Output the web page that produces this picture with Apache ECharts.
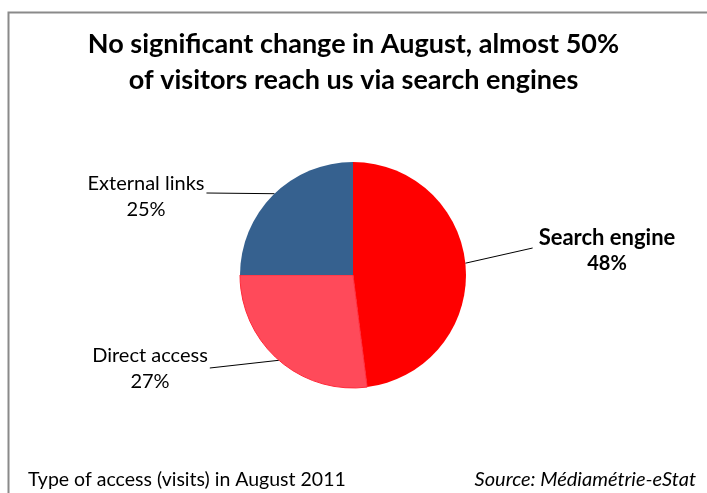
<!DOCTYPE html>
<html><head><meta charset="utf-8">
<script src="https://cdn.jsdelivr.net/npm/echarts@6/dist/echarts.min.js"></script>
<style>html,body{margin:0;padding:0;background:#fff}#c{width:707px;height:493px}</style>
</head><body><div id="c"></div><script>
const categories = ['Search engine', 'Direct access', 'External links'];
const values = [48, 27, 25];
const colors = ['#FF0000', '#FF4A5A', '#36618F'];
const titleText = 'No significant change in August, almost 50%\nof visitors reach us via search engines';
const footLeft = 'Type of access (visits) in August 2011';
const footRight = 'Source: Médiamétrie-eStat';

const FONT = 'Lato';
const cx = 353, cy = 275, R = 113;
// label layout helpers (centre of each label block, anchor angle on the pie edge)
const labelPos = [
  {x: 607, y: 251, angle: 6, endDy: -3},
  {x: 150, y: 369, angle: 229, endDy: -1},
  {x: 146, y: 197, angle: 134, endDy: -4}
];

const chart = echarts.init(document.getElementById('c'), null, {renderer: 'canvas'});
chart.setOption({
  backgroundColor: '#fff',
  animation: false,
  graphic: [{
    type: 'rect', left: 6, top: 10, silent: true,
    shape: {width: 760, height: 560},
    style: {fill: 'none', stroke: '#8a8a8a', lineWidth: 2}
  }],
  title: [
    {text: titleText, left: 'center', top: 21,
     textStyle: {fontFamily: FONT, fontSize: 27, fontWeight: 'bold', color: '#000', lineHeight: 36}},
    {text: footLeft, left: 23, top: 465,
     textStyle: {fontFamily: FONT, fontSize: 19.5, fontWeight: 'normal', color: '#000'}},
    {text: footRight, right: 6, top: 465,
     textStyle: {fontFamily: FONT, fontSize: 20, fontWeight: 'normal', fontStyle: 'italic', color: '#000'}}
  ],
  series: [{
    type: 'pie',
    center: [cx, cy],
    radius: R,
    startAngle: 90,
    clockwise: true,
    data: categories.map((n, i) => ({
      name: n, value: values[i],
      itemStyle: {color: colors[i], borderColor: i === 1 ? '#FF2A3A' : colors[i], borderWidth: i === 1 ? 1 : 0},
      label: i === 0 ? {formatter: '{n|{b}}\n{p|{c}%}'} : {}
    })),
    label: {
      show: true, position: 'outside',
      formatter: '{b}\n{c}%',
      fontFamily: FONT, fontSize: 20, lineHeight: 26, color: '#000',
      rich: {
        n: {fontFamily: FONT, fontSize: 22, fontWeight: 'bold', lineHeight: 26, color: '#000'},
        p: {fontFamily: FONT, fontSize: 20, fontWeight: 'bold', lineHeight: 26, color: '#000'}
      }
    },
    labelLine: {show: true, length: 10, length2: 10, lineStyle: {color: '#000', width: 1}},
    labelLayout: function (p) {
      const L = labelPos[p.dataIndex];
      const w = p.labelRect.width;
      const a = L.angle * Math.PI / 180;
      const px = cx + R * Math.cos(a), py = cy - R * Math.sin(a);
      const right = px > cx;
      const ex = right ? L.x - w / 2 - 6 : L.x + w / 2 + 2;
      const ey = L.y + L.endDy;
      return {x: L.x, y: L.y, align: 'center', verticalAlign: 'middle',
              labelLinePoints: [[px, py], [ex, ey], [ex, ey]]};
    },
    emphasis: {disabled: true}
  }]
});
</script></body></html>
